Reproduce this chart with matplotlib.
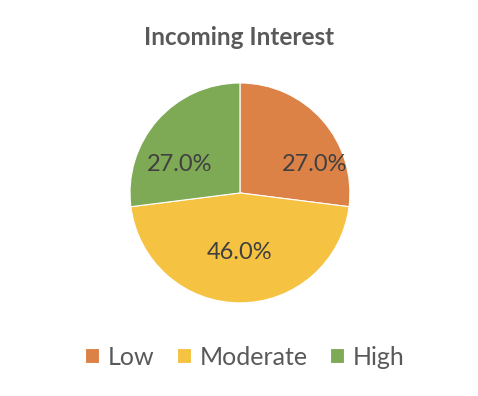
import matplotlib.pyplot as plt

labels = ['Low', 'Moderate', 'High']
values = [27.0, 46.0, 27.0]
colors = ['#DD8247', '#F5C242', '#7EAA55']

plt.rcParams['font.family'] = ['Lato', 'DejaVu Sans']

fig = plt.figure(figsize=(4.78, 3.96), dpi=100)
ax = fig.add_axes([0.272, 0.235, 0.46, 0.5556])

wedges, texts, autotexts = ax.pie(values, colors=colors, startangle=90, counterclock=False,
                                  autopct='%.1f%%', pctdistance=0.7,
                                  wedgeprops=dict(edgecolor='white', linewidth=0.8),
                                  textprops=dict(fontsize=17, color='#404040'))
ax.set_xlim(-1, 1)
ax.set_ylim(-1, 1)
ax.set_aspect('equal')

# nudge labels to where the original puts them
autotexts[0].set_position((0.68, 0.26))
autotexts[1].set_position((0.0, -0.54))
autotexts[2].set_position((-0.55, 0.26))

fig.text(0.5, 0.905, 'Incoming Interest', ha='center', va='center',
         fontsize=17.5, fontweight='bold', color='#595959')

fig.legend(wedges, labels, loc='center', bbox_to_anchor=(0.512, 0.098), ncol=3,
           frameon=False, fontsize=18, labelcolor='#595959', handlelength=0.55,
           handleheight=0.55, handletextpad=0.35, columnspacing=0.9)

fig.savefig('out.png', dpi=100)
